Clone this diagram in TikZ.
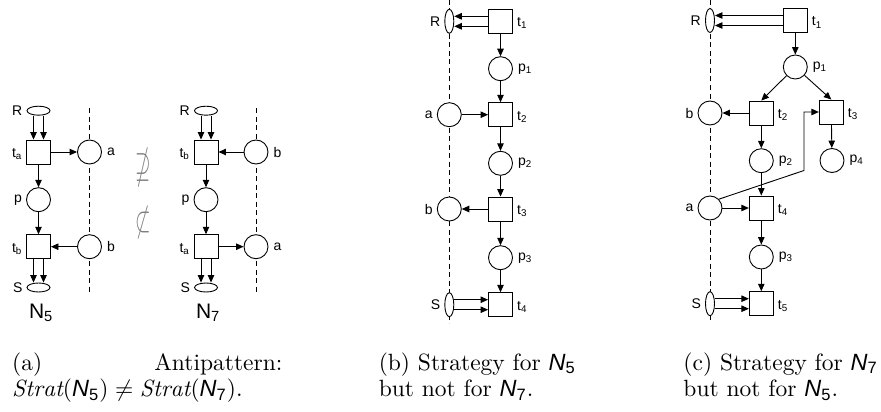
\documentclass[tikz,border=0pt]{standalone}
\usepackage{fontspec}
\usepackage{amssymb}
\usepackage{graphicx}
\newfontfamily\netfont{Liberation Sans}
\usetikzlibrary{shapes.geometric,arrows.meta}

% net identifiers used in the captions
\newcommand\capN[1]{{\netfont\itshape N}\textsubscript{\netfont #1}}

\tikzset{
  lw/.style={line width=0.9pt},
  arr/.style={lw, -{Triangle[length=7.5pt,width=6.5pt]}},
  trans/.style={draw, lw, fill=white, rectangle, minimum size=24pt, inner sep=0pt},
  place/.style={draw, lw, fill=white, circle, minimum size=24pt, inner sep=0pt},
  hres/.style={draw, lw, fill=white, ellipse, minimum width=23pt, minimum height=9pt, inner sep=0pt},
  vres/.style={draw, lw, fill=white, ellipse, minimum width=9pt, minimum height=24pt, inner sep=0pt},
  env/.style={lw, dash pattern=on 5pt off 3.5pt},
  lbl/.style={font=\netfont\fontsize{14}{16}\selectfont, inner sep=0pt},
  lwest/.style={label={[lbl, label distance=4pt]west:#1}},
  least/.style={label={[lbl, label distance=5pt]east:#1}},
  twest/.style={label={[lbl, label distance=4pt, yshift=-2pt]west:#1}},
  teast/.style={label={[lbl, label distance=4pt, yshift=-2pt]east:#1}},
  rel/.style={text=gray, inner sep=0pt, font=\fontsize{10}{10}\selectfont},
  % captions: 10pt text blown up, so the 10pt design of the font is kept
  capt/.style={font=\fontsize{10}{11.25}\selectfont, scale=2.35, inner sep=0pt, anchor=north west, align=left},
}

\begin{document}
\begin{tikzpicture}[x=1pt, y=-1pt]
\useasboundingbox (0,0) rectangle (881,412);

% ---------------- (a) the two nets N5 and N7 ----------------
\coordinate (e5top) at (89.5,108);
\coordinate (e5bot) at (89.5,292);
\draw[env] (e5top) -- (e5bot);
\node[hres, lwest=R] (r5) at (38.5,110.7) {};
\node[trans, twest={t\textsubscript{a}}] (ta5) at (38.5,152) {};
\node[place, lwest=p] (p5) at (38.5,199.7) {};
\node[trans, twest={t\textsubscript{b}}] (tb5) at (38.5,246.7) {};
\node[hres, lwest=S] (s5) at (38.5,287.5) {};
\node[place, least=a] (a5) at (89.5,152) {};
\node[place, least=b] (b5) at (89.5,246.7) {};
\draw[arr] ([xshift=-5pt]r5.south) -- ([xshift=-5pt]ta5.north);
\draw[arr] ([xshift=5pt]r5.south) -- ([xshift=5pt]ta5.north);
\draw[arr] (ta5) -- (a5);
\draw[arr] (ta5) -- (p5);
\draw[arr] (p5) -- (tb5);
\draw[arr] (b5) -- (tb5);
\draw[arr] ([xshift=-5pt]tb5.south) -- ([xshift=-5pt]s5.north);
\draw[arr] ([xshift=5pt]tb5.south) -- ([xshift=5pt]s5.north);
\node[font=\netfont\fontsize{21}{21}\selectfont, inner sep=0pt] (n5) at (41,313) {N\textsubscript{5}};

\coordinate (e7top) at (256,108);
\coordinate (e7bot) at (256,292);
\draw[env] (e7top) -- (e7bot);
\node[hres, lwest=R] (r7) at (206,110.7) {};
\node[trans, twest={t\textsubscript{b}}] (tb7) at (206,152) {};
\node[place, lwest=p] (p7) at (206,199.7) {};
\node[trans, twest={t\textsubscript{a}}] (ta7) at (206,246.7) {};
\node[hres, lwest=S] (s7) at (206,287.5) {};
\node[place, least=b] (b7) at (256,152) {};
\node[place, least=a] (a7) at (256,246.7) {};
\draw[arr] ([xshift=-5pt]r7.south) -- ([xshift=-5pt]tb7.north);
\draw[arr] ([xshift=5pt]r7.south) -- ([xshift=5pt]tb7.north);
\draw[arr] (b7) -- (tb7);
\draw[arr] (tb7) -- (p7);
\draw[arr] (p7) -- (ta7);
\draw[arr] (ta7) -- (a7);
\draw[arr] ([xshift=-5pt]ta7.south) -- ([xshift=-5pt]s7.north);
\draw[arr] ([xshift=5pt]ta7.south) -- ([xshift=5pt]s7.north);
\node[font=\netfont\fontsize{21}{21}\selectfont, inner sep=0pt] (n7) at (208,313) {N\textsubscript{7}};

% relation symbols between the nets
\node[rel] (nsup) at (143,167.5) {\scalebox{2.0}[3.6]{$\nsupseteq$}};
\node[rel] (nsub) at (143,222.5) {\scalebox{2.0}[3.6]{$\not\subset$}};

% ---------------- (b) strategy for N5 ----------------
\coordinate (ebtop) at (449.3,0);
\coordinate (ebbot) at (449.3,323);
\draw[env] (ebtop) -- (ebbot);
\node[vres, lwest=R] (rb) at (449.3,21.3) {};
\node[trans, teast={t\textsubscript{1}}] (t1b) at (500.5,21.3) {};
\node[place, least={p\textsubscript{1}}] (p1b) at (500.5,68.7) {};
\node[trans, teast={t\textsubscript{2}}] (t2b) at (500.5,114.7) {};
\node[place, lwest=a] (ab) at (449.3,114.7) {};
\node[place, least={p\textsubscript{2}}] (p2b) at (500.5,163.3) {};
\node[trans, teast={t\textsubscript{3}}] (t3b) at (500.5,209) {};
\node[place, lwest=b] (bb) at (449.3,209) {};
\node[place, least={p\textsubscript{3}}] (p3b) at (500.5,257.7) {};
\node[trans, teast={t\textsubscript{4}}] (t4b) at (500.5,304.7) {};
\node[vres, lwest=S] (sb) at (449.3,304.7) {};
\draw[arr] ([yshift=5pt]t1b.west) -- ([yshift=5pt]rb.east);
\draw[arr] ([yshift=-5pt]t1b.west) -- ([yshift=-5pt]rb.east);
\draw[arr] (t1b) -- (p1b);
\draw[arr] (p1b) -- (t2b);
\draw[arr] (ab) -- (t2b);
\draw[arr] (t2b) -- (p2b);
\draw[arr] (p2b) -- (t3b);
\draw[arr] (t3b) -- (bb);
\draw[arr] (t3b) -- (p3b);
\draw[arr] (p3b) -- (t4b);
\draw[arr] ([yshift=5pt]sb.east) -- ([yshift=5pt]t4b.west);
\draw[arr] ([yshift=-5pt]sb.east) -- ([yshift=-5pt]t4b.west);

% ---------------- (c) strategy for N7 ----------------
\coordinate (ectop) at (710,0);
\coordinate (ecbot) at (710,322);
\draw[env] (ectop) -- (ecbot);
\node[vres, lwest=R] (rc) at (710,20.5) {};
\node[trans, teast={t\textsubscript{1}}] (t1c) at (795.3,20.5) {};
\node[place, least={p\textsubscript{1}}] (p1c) at (795.3,67) {};
\node[trans, teast={t\textsubscript{2}}] (t2c) at (761.3,113) {};
\node[trans, teast={t\textsubscript{3}}] (t3c) at (831.3,112) {};
\node[place, lwest=b] (bc) at (710,113) {};
\node[place, least={p\textsubscript{2}}] (p2c) at (761.3,160.7) {};
\node[place, least={p\textsubscript{4}}] (p4c) at (832,160.5) {};
\node[trans, teast={t\textsubscript{4}}] (t4c) at (761.3,208) {};
\node[place, lwest=a] (ac) at (710,208) {};
\node[place, least={p\textsubscript{3}}] (p3c) at (761.3,257) {};
\node[trans, teast={t\textsubscript{5}}] (t5c) at (761.3,303.7) {};
\node[vres, lwest=S] (sc) at (710,303.7) {};
\coordinate (cbend) at (804,170.5);
\draw[arr] ([yshift=5pt]t1c.west) -- ([yshift=5pt]rc.east);
\draw[arr] ([yshift=-5pt]t1c.west) -- ([yshift=-5pt]rc.east);
\draw[arr] (t1c) -- (p1c);
\draw[arr] (p1c) -- (t2c.north);
\draw[arr] (p1c) -- (t3c.north);
\draw[arr] (t2c) -- (bc);
\draw[arr] (t2c) -- (p2c);
\draw[arr] (t3c) -- (p4c);
\draw[arr] (p2c) -- (t4c);
\draw[arr] (ac) -- (t4c);
\draw[arr] (ac.45) -- (cbend) |- (t3c.west);
\draw[arr] (t4c) -- (p3c);
\draw[arr] (p3c) -- (t5c);
\draw[arr] ([yshift=5pt]sc.east) -- ([yshift=5pt]t5c.west);
\draw[arr] ([yshift=-5pt]sc.east) -- ([yshift=-5pt]t5c.west);

% ---------------- captions ----------------
\node[capt, text width=115pt, align=justify] (capa) at (11.7,352)
  {(a)\hfill Antipattern:\\
   \hbox{$\mathit{Strat}(\hbox{\capN{5}})\neq\mathit{Strat}(\hbox{\capN{7}})$.}};
\node[capt] (capb) at (378.3,352) {(b) Strategy for \capN{5}\\but not for \capN{7}.};
\node[capt] (capc) at (683,352) {(c) Strategy for \capN{7}\\but not for \capN{5}.};
\end{tikzpicture}
\end{document}
